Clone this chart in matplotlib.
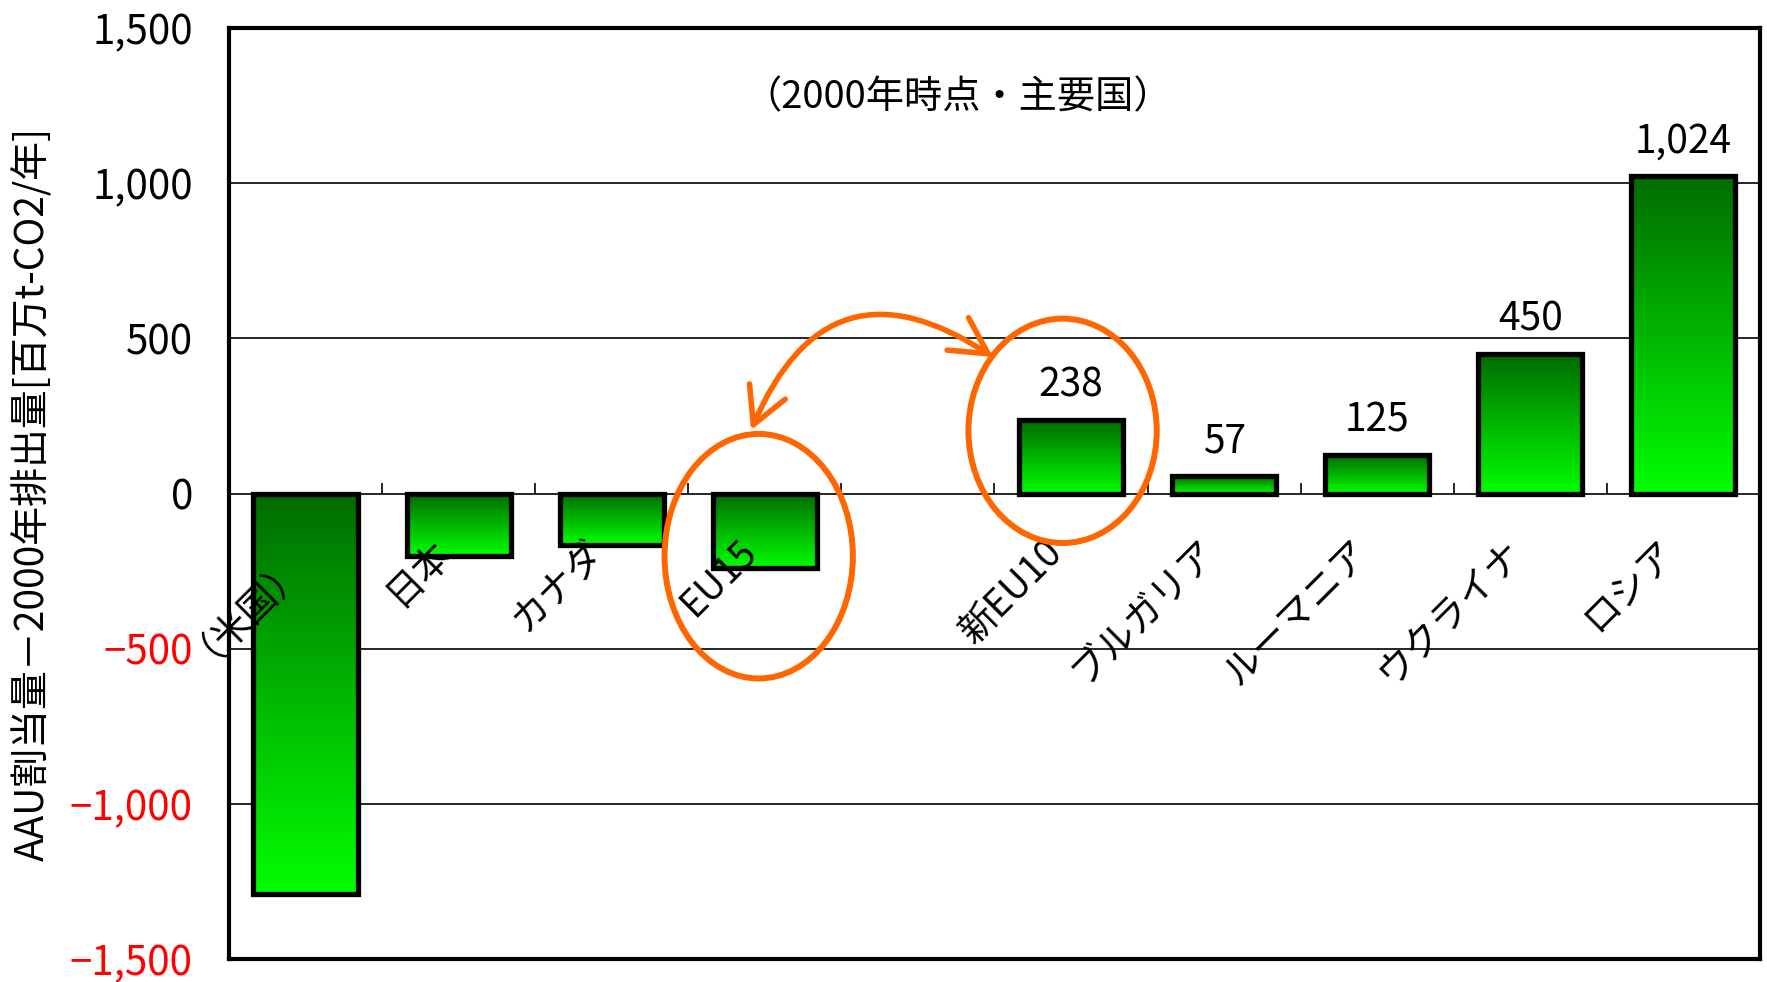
import numpy as np
import matplotlib.pyplot as plt
from matplotlib.colors import LinearSegmentedColormap
from matplotlib.patches import Ellipse, FancyArrowPatch

plt.rcParams['font.family'] = ['Noto Sans CJK JP', 'DejaVu Sans']

# AAU割当量と2000年排出量の差（百万t-CO2/年）
categories = ['（米国）', '日本', 'カナダ', 'EU15', '', '新EU10',
              'ブルガリア', 'ルーマニア', 'ウクライナ', 'ロシア']
values = [-1290, -200, -165, -240, np.nan, 238, 57, 125, 450, 1024]
yticks = [-1500, -1000, -500, 0, 500, 1000, 1500]

orange = '#FF6600'
bar_w = 0.68

fig = plt.figure(figsize=(17.67, 9.82), dpi=100)
ax = fig.add_axes([0.1296, 0.0234, 0.8664, 0.9481])

x = np.arange(len(categories))

# 横の目盛線
for y in yticks[1:-1]:
    ax.axhline(y, color='black', lw=1.2, zorder=0.5)

# 区切りの目盛（0の線の上向き）
ax.vlines(x[:-1] + 0.5, 0, 35, color='black', lw=1.2, zorder=0.6)

# グラデーションの棒
cmap = LinearSegmentedColormap.from_list('grn', ['#006C00', '#00FF00'])
grad = np.linspace(0, 1, 256).reshape(-1, 1)
for xi, v in zip(x, values):
    if np.isnan(v):
        continue
    lo, hi = min(0, v), max(0, v)
    ax.imshow(grad, extent=[xi - bar_w / 2, xi + bar_w / 2, lo, hi],
              aspect='auto', cmap=cmap, origin='upper', zorder=2,
              interpolation='bilinear')
    ax.add_patch(plt.Rectangle((xi - bar_w / 2, lo), bar_w, hi - lo,
                               fill=False, ec='black', lw=3.8, zorder=3))
    if v > 0:
        ax.text(xi, v + 45, f'{int(v):,}', ha='center', va='bottom',
                fontsize=28, zorder=4)

# 項目名（0の線の下、斜め）
for xi, name in zip(x, categories):
    ax.text(xi - 0.18, -125, name, rotation=45, ha='right', va='top',
            rotation_mode='anchor', fontsize=27, zorder=4)

ax.set_xlim(-0.5, len(categories) - 0.5)
ax.set_ylim(-1500, 1500)
ax.set_xticks([])
ax.set_yticks(yticks)
ax.set_yticklabels([f'{t:,}'.replace('-', '−') for t in yticks])
ax.tick_params(axis='y', length=0, pad=26, labelsize=29)
for lab, t in zip(ax.get_yticklabels(), yticks):
    if t < 0:
        lab.set_color('red')

for sp in ax.spines.values():
    sp.set_linewidth(3)
    sp.set_zorder(6)

ax.set_ylabel('AAU割当量－2000年排出量[百万t-CO2/年]', fontsize=28, labelpad=12)

ax.text(0.476, 0.925, '（2000年時点・主要国）', transform=ax.transAxes,
        ha='center', va='center', fontsize=27.5)

# EU15と新EU10を囲む楕円と矢印
ax.add_patch(Ellipse((2.96, -202), 1.23, 788, fill=False, ec=orange,
                     lw=4.3, zorder=5))
ax.add_patch(Ellipse((4.945, 202), 1.23, 723, fill=False, ec=orange,
                     lw=4.3, zorder=5))
ax.add_patch(FancyArrowPatch((2.91, 204), (4.49, 440),
                             connectionstyle='arc3,rad=-0.6',
                             arrowstyle='<->,head_length=0.65,head_width=0.35',
                             mutation_scale=40, color=orange, lw=4,
                             shrinkA=0, shrinkB=0, zorder=5))

fig.savefig('out.png', dpi=100)
